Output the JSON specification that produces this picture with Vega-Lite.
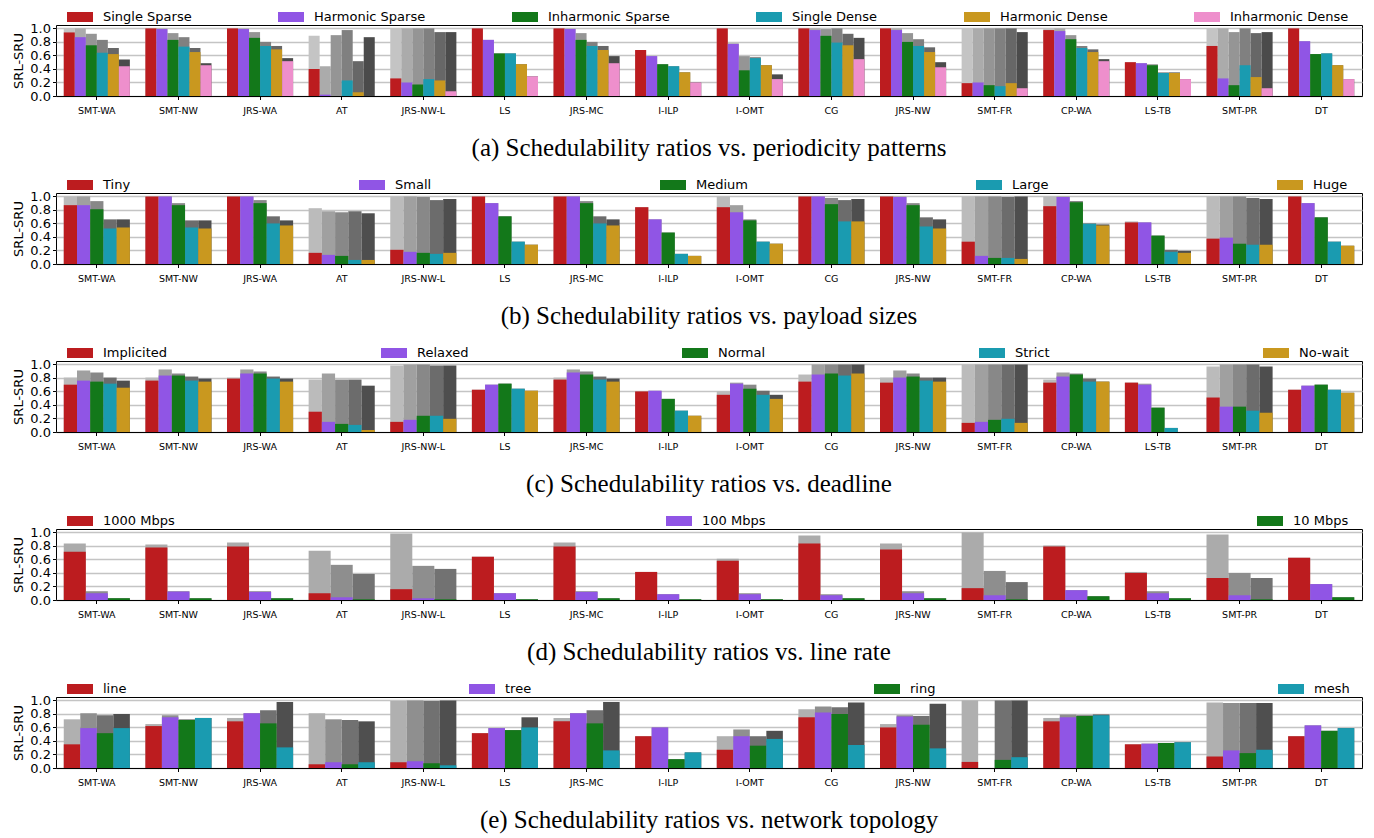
{
"$schema": "https://vega.github.io/schema/vega-lite/v6.json",
"background": "white",
"padding": {"top": 3, "left": 12, "right": 3, "bottom": 5},
"spacing": 9,
"resolve": {"scale": {"xOffset": "independent", "color": "independent"}},
"config": {
  "view": {"stroke": "black", "strokeWidth": 1},
  "font": "DejaVu Sans",
  "bar": {"strokeWidth": 0},
  "title": {"orient": "bottom", "font": "Liberation Serif", "fontSize": 25, "fontWeight": "normal", "color": "black", "offset": 21, "anchor": "middle"},
  "axisX": {"labelFontSize": 9.5, "labelColor": "black", "labelAngle": 0, "tickColor": "black", "tickSize": 3.5, "domainColor": "black", "labelPadding": 6, "grid": false, "title": null},
  "axisY": {"labelFontSize": 13, "labelColor": "black", "tickColor": "black", "tickSize": 3.5, "domain": false, "titleFontSize": 13, "titleFontWeight": "normal", "titleColor": "black", "titlePadding": 4, "grid": true, "gridColor": "#c4c4c4", "gridWidth": 1.3, "zindex": 1},
  "legend": {"orient": "none", "legendX": 11, "legendY": -21, "direction": "horizontal", "title": null, "symbolType": "M-1,-0.385H1V0.385H-1Z", "symbolSize": 676, "symbolStrokeWidth": 0, "symbolOpacity": 1, "labelFontSize": 13, "labelColor": "black", "labelOffset": 10, "labelLimit": 300}
},
"datasets": {
"a": [
{"g":"SMT-WA","s":"Single Sparse","v":0.94,"t":1.0},{"g":"SMT-WA","s":"Harmonic Sparse","v":0.87,"t":1.0},{"g":"SMT-WA","s":"Inharmonic Sparse","v":0.75,"t":0.92},{"g":"SMT-WA","s":"Single Dense","v":0.64,"t":0.83},{"g":"SMT-WA","s":"Harmonic Dense","v":0.62,"t":0.71},{"g":"SMT-WA","s":"Inharmonic Dense","v":0.44,"t":0.54},
{"g":"SMT-NW","s":"Single Sparse","v":1.0,"t":1.0},{"g":"SMT-NW","s":"Harmonic Sparse","v":0.99,"t":1.0},{"g":"SMT-NW","s":"Inharmonic Sparse","v":0.83,"t":0.93},{"g":"SMT-NW","s":"Single Dense","v":0.73,"t":0.87},{"g":"SMT-NW","s":"Harmonic Dense","v":0.65,"t":0.71},{"g":"SMT-NW","s":"Inharmonic Dense","v":0.455,"t":0.485},
{"g":"JRS-WA","s":"Single Sparse","v":1.0,"t":1.0},{"g":"JRS-WA","s":"Harmonic Sparse","v":0.99,"t":1.0},{"g":"JRS-WA","s":"Inharmonic Sparse","v":0.86,"t":0.945},{"g":"JRS-WA","s":"Single Dense","v":0.74,"t":0.8},{"g":"JRS-WA","s":"Harmonic Dense","v":0.69,"t":0.74},{"g":"JRS-WA","s":"Inharmonic Dense","v":0.515,"t":0.56},
{"g":"AT","s":"Single Sparse","v":0.4,"t":0.89},{"g":"AT","s":"Harmonic Sparse","v":0.02,"t":0.44},{"g":"AT","s":"Inharmonic Sparse","v":0.0,"t":0.9},{"g":"AT","s":"Single Dense","v":0.23,"t":0.975},{"g":"AT","s":"Harmonic Dense","v":0.055,"t":0.515},{"g":"AT","s":"Inharmonic Dense","v":0.0,"t":0.87},
{"g":"JRS-NW-L","s":"Single Sparse","v":0.26,"t":1.0},{"g":"JRS-NW-L","s":"Harmonic Sparse","v":0.2,"t":1.0},{"g":"JRS-NW-L","s":"Inharmonic Sparse","v":0.17,"t":1.0},{"g":"JRS-NW-L","s":"Single Dense","v":0.25,"t":1.0},{"g":"JRS-NW-L","s":"Harmonic Dense","v":0.23,"t":0.945},{"g":"JRS-NW-L","s":"Inharmonic Dense","v":0.07,"t":0.945},
{"g":"LS","s":"Single Sparse","v":1.0,"t":1.0},{"g":"LS","s":"Harmonic Sparse","v":0.83,"t":0.83},{"g":"LS","s":"Inharmonic Sparse","v":0.63,"t":0.63},{"g":"LS","s":"Single Dense","v":0.63,"t":0.63},{"g":"LS","s":"Harmonic Dense","v":0.47,"t":0.47},{"g":"LS","s":"Inharmonic Dense","v":0.29,"t":0.29},
{"g":"JRS-MC","s":"Single Sparse","v":1.0,"t":1.0},{"g":"JRS-MC","s":"Harmonic Sparse","v":0.99,"t":1.0},{"g":"JRS-MC","s":"Inharmonic Sparse","v":0.83,"t":0.93},{"g":"JRS-MC","s":"Single Dense","v":0.74,"t":0.8},{"g":"JRS-MC","s":"Harmonic Dense","v":0.68,"t":0.74},{"g":"JRS-MC","s":"Inharmonic Dense","v":0.485,"t":0.59},
{"g":"I-ILP","s":"Single Sparse","v":0.68,"t":0.68},{"g":"I-ILP","s":"Harmonic Sparse","v":0.59,"t":0.59},{"g":"I-ILP","s":"Inharmonic Sparse","v":0.47,"t":0.47},{"g":"I-ILP","s":"Single Dense","v":0.44,"t":0.44},{"g":"I-ILP","s":"Harmonic Dense","v":0.35,"t":0.35},{"g":"I-ILP","s":"Inharmonic Dense","v":0.2,"t":0.2},
{"g":"I-OMT","s":"Single Sparse","v":1.0,"t":1.0},{"g":"I-OMT","s":"Harmonic Sparse","v":0.77,"t":0.78},{"g":"I-OMT","s":"Inharmonic Sparse","v":0.38,"t":0.59},{"g":"I-OMT","s":"Single Dense","v":0.56,"t":0.575},{"g":"I-OMT","s":"Harmonic Dense","v":0.455,"t":0.455},{"g":"I-OMT","s":"Inharmonic Dense","v":0.25,"t":0.32},
{"g":"CG","s":"Single Sparse","v":1.0,"t":1.0},{"g":"CG","s":"Harmonic Sparse","v":0.975,"t":1.0},{"g":"CG","s":"Inharmonic Sparse","v":0.89,"t":0.99},{"g":"CG","s":"Single Dense","v":0.79,"t":1.0},{"g":"CG","s":"Harmonic Dense","v":0.75,"t":0.92},{"g":"CG","s":"Inharmonic Dense","v":0.545,"t":0.86},
{"g":"JRS-NW","s":"Single Sparse","v":1.0,"t":1.0},{"g":"JRS-NW","s":"Harmonic Sparse","v":0.975,"t":1.0},{"g":"JRS-NW","s":"Inharmonic Sparse","v":0.8,"t":0.93},{"g":"JRS-NW","s":"Single Dense","v":0.74,"t":0.84},{"g":"JRS-NW","s":"Harmonic Dense","v":0.65,"t":0.72},{"g":"JRS-NW","s":"Inharmonic Dense","v":0.425,"t":0.5},
{"g":"SMT-FR","s":"Single Sparse","v":0.19,"t":1.0},{"g":"SMT-FR","s":"Harmonic Sparse","v":0.2,"t":1.0},{"g":"SMT-FR","s":"Inharmonic Sparse","v":0.16,"t":1.0},{"g":"SMT-FR","s":"Single Dense","v":0.145,"t":1.0},{"g":"SMT-FR","s":"Harmonic Dense","v":0.19,"t":1.0},{"g":"SMT-FR","s":"Inharmonic Dense","v":0.115,"t":0.945},
{"g":"CP-WA","s":"Single Sparse","v":0.975,"t":1.0},{"g":"CP-WA","s":"Harmonic Sparse","v":0.96,"t":1.0},{"g":"CP-WA","s":"Inharmonic Sparse","v":0.84,"t":0.9},{"g":"CP-WA","s":"Single Dense","v":0.71,"t":0.74},{"g":"CP-WA","s":"Harmonic Dense","v":0.65,"t":0.69},{"g":"CP-WA","s":"Inharmonic Dense","v":0.515,"t":0.545},
{"g":"LS-TB","s":"Single Sparse","v":0.5,"t":0.5},{"g":"LS-TB","s":"Harmonic Sparse","v":0.485,"t":0.485},{"g":"LS-TB","s":"Inharmonic Sparse","v":0.455,"t":0.47},{"g":"LS-TB","s":"Single Dense","v":0.34,"t":0.35},{"g":"LS-TB","s":"Harmonic Dense","v":0.34,"t":0.35},{"g":"LS-TB","s":"Inharmonic Dense","v":0.25,"t":0.25},
{"g":"SMT-PR","s":"Single Sparse","v":0.74,"t":1.0},{"g":"SMT-PR","s":"Harmonic Sparse","v":0.26,"t":1.0},{"g":"SMT-PR","s":"Inharmonic Sparse","v":0.16,"t":0.945},{"g":"SMT-PR","s":"Single Dense","v":0.455,"t":1.0},{"g":"SMT-PR","s":"Harmonic Dense","v":0.28,"t":0.93},{"g":"SMT-PR","s":"Inharmonic Dense","v":0.115,"t":0.945},
{"g":"DT","s":"Single Sparse","v":1.0,"t":1.0},{"g":"DT","s":"Harmonic Sparse","v":0.81,"t":0.81},{"g":"DT","s":"Inharmonic Sparse","v":0.62,"t":0.62},{"g":"DT","s":"Single Dense","v":0.63,"t":0.63},{"g":"DT","s":"Harmonic Dense","v":0.455,"t":0.455},{"g":"DT","s":"Inharmonic Dense","v":0.25,"t":0.25}
],
"b": [
{"g":"SMT-WA","s":"Tiny","v":0.87,"t":1.0},{"g":"SMT-WA","s":"Small","v":0.87,"t":1.0},{"g":"SMT-WA","s":"Medium","v":0.81,"t":0.93},{"g":"SMT-WA","s":"Large","v":0.525,"t":0.66},{"g":"SMT-WA","s":"Huge","v":0.54,"t":0.66},
{"g":"SMT-NW","s":"Tiny","v":1.0,"t":1.0},{"g":"SMT-NW","s":"Small","v":1.0,"t":1.0},{"g":"SMT-NW","s":"Medium","v":0.87,"t":0.9},{"g":"SMT-NW","s":"Large","v":0.54,"t":0.645},{"g":"SMT-NW","s":"Huge","v":0.525,"t":0.645},
{"g":"JRS-WA","s":"Tiny","v":1.0,"t":1.0},{"g":"JRS-WA","s":"Small","v":1.0,"t":1.0},{"g":"JRS-WA","s":"Medium","v":0.9,"t":0.945},{"g":"JRS-WA","s":"Large","v":0.6,"t":0.705},{"g":"JRS-WA","s":"Huge","v":0.57,"t":0.645},
{"g":"AT","s":"Tiny","v":0.165,"t":0.825},{"g":"AT","s":"Small","v":0.135,"t":0.78},{"g":"AT","s":"Medium","v":0.12,"t":0.765},{"g":"AT","s":"Large","v":0.06,"t":0.78},{"g":"AT","s":"Huge","v":0.06,"t":0.75},
{"g":"JRS-NW-L","s":"Tiny","v":0.21,"t":1.0},{"g":"JRS-NW-L","s":"Small","v":0.18,"t":1.0},{"g":"JRS-NW-L","s":"Medium","v":0.165,"t":0.99},{"g":"JRS-NW-L","s":"Large","v":0.15,"t":0.945},{"g":"JRS-NW-L","s":"Huge","v":0.165,"t":0.96},
{"g":"LS","s":"Tiny","v":1.0,"t":1.0},{"g":"LS","s":"Small","v":0.9,"t":0.9},{"g":"LS","s":"Medium","v":0.705,"t":0.705},{"g":"LS","s":"Large","v":0.33,"t":0.33},{"g":"LS","s":"Huge","v":0.285,"t":0.285},
{"g":"JRS-MC","s":"Tiny","v":1.0,"t":1.0},{"g":"JRS-MC","s":"Small","v":1.0,"t":1.0},{"g":"JRS-MC","s":"Medium","v":0.9,"t":0.93},{"g":"JRS-MC","s":"Large","v":0.6,"t":0.705},{"g":"JRS-MC","s":"Huge","v":0.57,"t":0.66},
{"g":"I-ILP","s":"Tiny","v":0.84,"t":0.84},{"g":"I-ILP","s":"Small","v":0.66,"t":0.66},{"g":"I-ILP","s":"Medium","v":0.465,"t":0.465},{"g":"I-ILP","s":"Large","v":0.15,"t":0.15},{"g":"I-ILP","s":"Huge","v":0.12,"t":0.12},
{"g":"I-OMT","s":"Tiny","v":0.84,"t":1.0},{"g":"I-OMT","s":"Small","v":0.765,"t":0.87},{"g":"I-OMT","s":"Medium","v":0.645,"t":0.66},{"g":"I-OMT","s":"Large","v":0.33,"t":0.33},{"g":"I-OMT","s":"Huge","v":0.3,"t":0.3},
{"g":"CG","s":"Tiny","v":1.0,"t":1.0},{"g":"CG","s":"Small","v":1.0,"t":1.0},{"g":"CG","s":"Medium","v":0.885,"t":0.975},{"g":"CG","s":"Large","v":0.63,"t":0.945},{"g":"CG","s":"Huge","v":0.63,"t":0.96},
{"g":"JRS-NW","s":"Tiny","v":1.0,"t":1.0},{"g":"JRS-NW","s":"Small","v":0.99,"t":1.0},{"g":"JRS-NW","s":"Medium","v":0.87,"t":0.9},{"g":"JRS-NW","s":"Large","v":0.555,"t":0.69},{"g":"JRS-NW","s":"Huge","v":0.525,"t":0.66},
{"g":"SMT-FR","s":"Tiny","v":0.33,"t":1.0},{"g":"SMT-FR","s":"Small","v":0.12,"t":1.0},{"g":"SMT-FR","s":"Medium","v":0.09,"t":1.0},{"g":"SMT-FR","s":"Large","v":0.09,"t":0.99},{"g":"SMT-FR","s":"Huge","v":0.075,"t":1.0},
{"g":"CP-WA","s":"Tiny","v":0.855,"t":1.0},{"g":"CP-WA","s":"Small","v":0.99,"t":1.0},{"g":"CP-WA","s":"Medium","v":0.915,"t":0.93},{"g":"CP-WA","s":"Large","v":0.595,"t":0.6},{"g":"CP-WA","s":"Huge","v":0.57,"t":0.585},
{"g":"LS-TB","s":"Tiny","v":0.615,"t":0.63},{"g":"LS-TB","s":"Small","v":0.615,"t":0.615},{"g":"LS-TB","s":"Medium","v":0.42,"t":0.42},{"g":"LS-TB","s":"Large","v":0.18,"t":0.21},{"g":"LS-TB","s":"Huge","v":0.165,"t":0.195},
{"g":"SMT-PR","s":"Tiny","v":0.375,"t":1.0},{"g":"SMT-PR","s":"Small","v":0.39,"t":1.0},{"g":"SMT-PR","s":"Medium","v":0.3,"t":1.0},{"g":"SMT-PR","s":"Large","v":0.285,"t":0.975},{"g":"SMT-PR","s":"Huge","v":0.285,"t":0.96},
{"g":"DT","s":"Tiny","v":1.0,"t":1.0},{"g":"DT","s":"Small","v":0.9,"t":0.9},{"g":"DT","s":"Medium","v":0.69,"t":0.69},{"g":"DT","s":"Large","v":0.33,"t":0.33},{"g":"DT","s":"Huge","v":0.27,"t":0.27}
],
"c": [
{"g":"SMT-WA","s":"Implicited","v":0.7,"t":0.805},{"g":"SMT-WA","s":"Relaxed","v":0.76,"t":0.91},{"g":"SMT-WA","s":"Normal","v":0.745,"t":0.88},{"g":"SMT-WA","s":"Strict","v":0.715,"t":0.805},{"g":"SMT-WA","s":"No-wait","v":0.655,"t":0.76},
{"g":"SMT-NW","s":"Implicited","v":0.76,"t":0.805},{"g":"SMT-NW","s":"Relaxed","v":0.835,"t":0.925},{"g":"SMT-NW","s":"Normal","v":0.835,"t":0.865},{"g":"SMT-NW","s":"Strict","v":0.76,"t":0.82},{"g":"SMT-NW","s":"No-wait","v":0.745,"t":0.79},
{"g":"JRS-WA","s":"Implicited","v":0.79,"t":0.805},{"g":"JRS-WA","s":"Relaxed","v":0.865,"t":0.925},{"g":"JRS-WA","s":"Normal","v":0.865,"t":0.895},{"g":"JRS-WA","s":"Strict","v":0.79,"t":0.82},{"g":"JRS-WA","s":"No-wait","v":0.745,"t":0.79},
{"g":"AT","s":"Implicited","v":0.3,"t":0.775},{"g":"AT","s":"Relaxed","v":0.15,"t":0.865},{"g":"AT","s":"Normal","v":0.12,"t":0.775},{"g":"AT","s":"Strict","v":0.105,"t":0.775},{"g":"AT","s":"No-wait","v":0.03,"t":0.685},
{"g":"JRS-NW-L","s":"Implicited","v":0.15,"t":0.985},{"g":"JRS-NW-L","s":"Relaxed","v":0.18,"t":1.0},{"g":"JRS-NW-L","s":"Normal","v":0.24,"t":1.0},{"g":"JRS-NW-L","s":"Strict","v":0.24,"t":0.985},{"g":"JRS-NW-L","s":"No-wait","v":0.195,"t":0.985},
{"g":"LS","s":"Implicited","v":0.625,"t":0.625},{"g":"LS","s":"Relaxed","v":0.7,"t":0.7},{"g":"LS","s":"Normal","v":0.715,"t":0.715},{"g":"LS","s":"Strict","v":0.64,"t":0.64},{"g":"LS","s":"No-wait","v":0.61,"t":0.61},
{"g":"JRS-MC","s":"Implicited","v":0.775,"t":0.805},{"g":"JRS-MC","s":"Relaxed","v":0.88,"t":0.925},{"g":"JRS-MC","s":"Normal","v":0.85,"t":0.895},{"g":"JRS-MC","s":"Strict","v":0.775,"t":0.82},{"g":"JRS-MC","s":"No-wait","v":0.745,"t":0.79},
{"g":"I-ILP","s":"Implicited","v":0.6,"t":0.6},{"g":"I-ILP","s":"Relaxed","v":0.61,"t":0.61},{"g":"I-ILP","s":"Normal","v":0.49,"t":0.49},{"g":"I-ILP","s":"Strict","v":0.315,"t":0.315},{"g":"I-ILP","s":"No-wait","v":0.24,"t":0.24},
{"g":"I-OMT","s":"Implicited","v":0.55,"t":0.6},{"g":"I-OMT","s":"Relaxed","v":0.715,"t":0.73},{"g":"I-OMT","s":"Normal","v":0.64,"t":0.7},{"g":"I-OMT","s":"Strict","v":0.55,"t":0.61},{"g":"I-OMT","s":"No-wait","v":0.49,"t":0.55},
{"g":"CG","s":"Implicited","v":0.745,"t":0.85},{"g":"CG","s":"Relaxed","v":0.85,"t":1.0},{"g":"CG","s":"Normal","v":0.865,"t":1.0},{"g":"CG","s":"Strict","v":0.835,"t":1.0},{"g":"CG","s":"No-wait","v":0.865,"t":1.0},
{"g":"JRS-NW","s":"Implicited","v":0.73,"t":0.805},{"g":"JRS-NW","s":"Relaxed","v":0.805,"t":0.91},{"g":"JRS-NW","s":"Normal","v":0.82,"t":0.865},{"g":"JRS-NW","s":"Strict","v":0.76,"t":0.805},{"g":"JRS-NW","s":"No-wait","v":0.745,"t":0.805},
{"g":"SMT-FR","s":"Implicited","v":0.135,"t":1.0},{"g":"SMT-FR","s":"Relaxed","v":0.15,"t":1.0},{"g":"SMT-FR","s":"Normal","v":0.18,"t":1.0},{"g":"SMT-FR","s":"Strict","v":0.195,"t":1.0},{"g":"SMT-FR","s":"No-wait","v":0.135,"t":1.0},
{"g":"CP-WA","s":"Implicited","v":0.73,"t":0.775},{"g":"CP-WA","s":"Relaxed","v":0.82,"t":0.88},{"g":"CP-WA","s":"Normal","v":0.85,"t":0.865},{"g":"CP-WA","s":"Strict","v":0.745,"t":0.79},{"g":"CP-WA","s":"No-wait","v":0.745,"t":0.745},
{"g":"LS-TB","s":"Implicited","v":0.73,"t":0.73},{"g":"LS-TB","s":"Relaxed","v":0.7,"t":0.715},{"g":"LS-TB","s":"Normal","v":0.36,"t":0.36},{"g":"LS-TB","s":"Strict","v":0.06,"t":0.06},{"g":"LS-TB","s":"No-wait","v":0.0,"t":0.0},
{"g":"SMT-PR","s":"Implicited","v":0.51,"t":0.97},{"g":"SMT-PR","s":"Relaxed","v":0.375,"t":1.0},{"g":"SMT-PR","s":"Normal","v":0.375,"t":1.0},{"g":"SMT-PR","s":"Strict","v":0.315,"t":1.0},{"g":"SMT-PR","s":"No-wait","v":0.285,"t":0.97},
{"g":"DT","s":"Implicited","v":0.625,"t":0.625},{"g":"DT","s":"Relaxed","v":0.685,"t":0.685},{"g":"DT","s":"Normal","v":0.7,"t":0.7},{"g":"DT","s":"Strict","v":0.625,"t":0.625},{"g":"DT","s":"No-wait","v":0.58,"t":0.58}
],
"d": [
{"g":"SMT-WA","s":"1000 Mbps","v":0.715,"t":0.835},{"g":"SMT-WA","s":"100 Mbps","v":0.1,"t":0.13},{"g":"SMT-WA","s":"10 Mbps","v":0.025,"t":0.025},
{"g":"SMT-NW","s":"1000 Mbps","v":0.775,"t":0.82},{"g":"SMT-NW","s":"100 Mbps","v":0.125,"t":0.13},{"g":"SMT-NW","s":"10 Mbps","v":0.025,"t":0.025},
{"g":"JRS-WA","s":"1000 Mbps","v":0.79,"t":0.85},{"g":"JRS-WA","s":"100 Mbps","v":0.12,"t":0.13},{"g":"JRS-WA","s":"10 Mbps","v":0.025,"t":0.025},
{"g":"AT","s":"1000 Mbps","v":0.1,"t":0.73},{"g":"AT","s":"100 Mbps","v":0.04,"t":0.52},{"g":"AT","s":"10 Mbps","v":0.01,"t":0.385},
{"g":"JRS-NW-L","s":"1000 Mbps","v":0.16,"t":0.985},{"g":"JRS-NW-L","s":"100 Mbps","v":0.025,"t":0.505},{"g":"JRS-NW-L","s":"10 Mbps","v":0.01,"t":0.46},
{"g":"LS","s":"1000 Mbps","v":0.64,"t":0.64},{"g":"LS","s":"100 Mbps","v":0.1,"t":0.1},{"g":"LS","s":"10 Mbps","v":0.01,"t":0.01},
{"g":"JRS-MC","s":"1000 Mbps","v":0.79,"t":0.85},{"g":"JRS-MC","s":"100 Mbps","v":0.12,"t":0.13},{"g":"JRS-MC","s":"10 Mbps","v":0.025,"t":0.025},
{"g":"I-ILP","s":"1000 Mbps","v":0.415,"t":0.415},{"g":"I-ILP","s":"100 Mbps","v":0.085,"t":0.085},{"g":"I-ILP","s":"10 Mbps","v":0.01,"t":0.01},
{"g":"I-OMT","s":"1000 Mbps","v":0.58,"t":0.61},{"g":"I-OMT","s":"100 Mbps","v":0.085,"t":0.1},{"g":"I-OMT","s":"10 Mbps","v":0.01,"t":0.01},
{"g":"CG","s":"1000 Mbps","v":0.835,"t":0.955},{"g":"CG","s":"100 Mbps","v":0.07,"t":0.085},{"g":"CG","s":"10 Mbps","v":0.025,"t":0.025},
{"g":"JRS-NW","s":"1000 Mbps","v":0.745,"t":0.835},{"g":"JRS-NW","s":"100 Mbps","v":0.1,"t":0.13},{"g":"JRS-NW","s":"10 Mbps","v":0.025,"t":0.025},
{"g":"SMT-FR","s":"1000 Mbps","v":0.175,"t":1.0},{"g":"SMT-FR","s":"100 Mbps","v":0.07,"t":0.43},{"g":"SMT-FR","s":"10 Mbps","v":0.01,"t":0.265},
{"g":"CP-WA","s":"1000 Mbps","v":0.79,"t":0.805},{"g":"CP-WA","s":"100 Mbps","v":0.145,"t":0.145},{"g":"CP-WA","s":"10 Mbps","v":0.055,"t":0.055},
{"g":"LS-TB","s":"1000 Mbps","v":0.4,"t":0.415},{"g":"LS-TB","s":"100 Mbps","v":0.1,"t":0.13},{"g":"LS-TB","s":"10 Mbps","v":0.025,"t":0.025},
{"g":"SMT-PR","s":"1000 Mbps","v":0.325,"t":0.97},{"g":"SMT-PR","s":"100 Mbps","v":0.07,"t":0.4},{"g":"SMT-PR","s":"10 Mbps","v":0.01,"t":0.325},
{"g":"DT","s":"1000 Mbps","v":0.625,"t":0.625},{"g":"DT","s":"100 Mbps","v":0.235,"t":0.235},{"g":"DT","s":"10 Mbps","v":0.04,"t":0.04}
],
"e": [
{"g":"SMT-WA","s":"line","v":0.35,"t":0.72},{"g":"SMT-WA","s":"tree","v":0.59,"t":0.81},{"g":"SMT-WA","s":"ring","v":0.515,"t":0.78},{"g":"SMT-WA","s":"mesh","v":0.59,"t":0.8},
{"g":"SMT-NW","s":"line","v":0.62,"t":0.65},{"g":"SMT-NW","s":"tree","v":0.75,"t":0.78},{"g":"SMT-NW","s":"ring","v":0.71,"t":0.72},{"g":"SMT-NW","s":"mesh","v":0.74,"t":0.74},
{"g":"JRS-WA","s":"line","v":0.69,"t":0.74},{"g":"JRS-WA","s":"tree","v":0.81,"t":0.81},{"g":"JRS-WA","s":"ring","v":0.66,"t":0.855},{"g":"JRS-WA","s":"mesh","v":0.305,"t":0.975},
{"g":"AT","s":"line","v":0.055,"t":0.81},{"g":"AT","s":"tree","v":0.085,"t":0.72},{"g":"AT","s":"ring","v":0.055,"t":0.71},{"g":"AT","s":"mesh","v":0.085,"t":0.69},
{"g":"JRS-NW-L","s":"line","v":0.085,"t":0.99},{"g":"JRS-NW-L","s":"tree","v":0.1,"t":1.0},{"g":"JRS-NW-L","s":"ring","v":0.07,"t":0.99},{"g":"JRS-NW-L","s":"mesh","v":0.04,"t":1.0},
{"g":"LS","s":"line","v":0.515,"t":0.515},{"g":"LS","s":"tree","v":0.59,"t":0.59},{"g":"LS","s":"ring","v":0.56,"t":0.56},{"g":"LS","s":"mesh","v":0.6,"t":0.75},
{"g":"JRS-MC","s":"line","v":0.69,"t":0.74},{"g":"JRS-MC","s":"tree","v":0.81,"t":0.81},{"g":"JRS-MC","s":"ring","v":0.66,"t":0.855},{"g":"JRS-MC","s":"mesh","v":0.26,"t":0.975},
{"g":"I-ILP","s":"line","v":0.47,"t":0.47},{"g":"I-ILP","s":"tree","v":0.6,"t":0.6},{"g":"I-ILP","s":"ring","v":0.13,"t":0.13},{"g":"I-ILP","s":"mesh","v":0.23,"t":0.23},
{"g":"I-OMT","s":"line","v":0.27,"t":0.47},{"g":"I-OMT","s":"tree","v":0.47,"t":0.57},{"g":"I-OMT","s":"ring","v":0.33,"t":0.47},{"g":"I-OMT","s":"mesh","v":0.43,"t":0.55},
{"g":"CG","s":"line","v":0.75,"t":0.87},{"g":"CG","s":"tree","v":0.82,"t":0.91},{"g":"CG","s":"ring","v":0.8,"t":0.9},{"g":"CG","s":"mesh","v":0.34,"t":0.97},
{"g":"JRS-NW","s":"line","v":0.6,"t":0.65},{"g":"JRS-NW","s":"tree","v":0.76,"t":0.78},{"g":"JRS-NW","s":"ring","v":0.64,"t":0.77},{"g":"JRS-NW","s":"mesh","v":0.29,"t":0.95},
{"g":"SMT-FR","s":"line","v":0.09,"t":1.0},{"g":"SMT-FR","s":"tree","v":0.0,"t":0.0},{"g":"SMT-FR","s":"ring","v":0.12,"t":1.0},{"g":"SMT-FR","s":"mesh","v":0.16,"t":1.0},
{"g":"CP-WA","s":"line","v":0.69,"t":0.74},{"g":"CP-WA","s":"tree","v":0.75,"t":0.79},{"g":"CP-WA","s":"ring","v":0.77,"t":0.78},{"g":"CP-WA","s":"mesh","v":0.78,"t":0.79},
{"g":"LS-TB","s":"line","v":0.35,"t":0.35},{"g":"LS-TB","s":"tree","v":0.36,"t":0.36},{"g":"LS-TB","s":"ring","v":0.37,"t":0.37},{"g":"LS-TB","s":"mesh","v":0.38,"t":0.38},
{"g":"SMT-PR","s":"line","v":0.17,"t":0.97},{"g":"SMT-PR","s":"tree","v":0.26,"t":0.96},{"g":"SMT-PR","s":"ring","v":0.22,"t":0.96},{"g":"SMT-PR","s":"mesh","v":0.27,"t":0.96},
{"g":"DT","s":"line","v":0.47,"t":0.47},{"g":"DT","s":"tree","v":0.63,"t":0.63},{"g":"DT","s":"ring","v":0.55,"t":0.55},{"g":"DT","s":"mesh","v":0.59,"t":0.59}
]
},
"vconcat": [
{
 "data": {"name": "a"}, "width": 1306, "height": 71,
 "title": {"text": "(a) Schedulability ratios vs. periodicity patterns"},
 "encoding": {
  "x": {"field": "g", "type": "nominal", "sort": ["SMT-WA","SMT-NW","JRS-WA","AT","JRS-NW-L","LS","JRS-MC","I-ILP","I-OMT","CG","JRS-NW","SMT-FR","CP-WA","LS-TB","SMT-PR","DT"], "scale": {"paddingInner": 0.19, "paddingOuter": 0.095}},
  "xOffset": {"field": "s", "type": "nominal", "scale": {"domain": ["Single Sparse","Harmonic Sparse","Inharmonic Sparse","Single Dense","Harmonic Dense","Inharmonic Dense"], "paddingInner": 0, "paddingOuter": 0}}
 },
 "layer": [
  {"mark": "bar", "encoding": {"y": {"field": "t", "type": "quantitative", "title": "SRL-SRU", "scale": {"domain": [0, 1.05], "nice": false}, "axis": {"values": [0, 0.2, 0.4, 0.6, 0.8, 1.0], "format": ".1f"}}, "color": {"field": "s", "type": "nominal", "scale": {"domain": ["Single Sparse","Harmonic Sparse","Inharmonic Sparse","Single Dense","Harmonic Dense","Inharmonic Dense"], "range": ["#c4c4c4","#ababab","#959595","#808080","#676767","#4b4b4b"]}, "legend": null}}},
  {"mark": "bar", "encoding": {"y": {"field": "v", "type": "quantitative", "title": "SRL-SRU", "axis": {"values": [0, 0.2, 0.4, 0.6, 0.8, 1.0], "format": ".1f"}}, "color": {"field": "s", "type": "nominal", "scale": {"domain": ["Single Sparse","Harmonic Sparse","Inharmonic Sparse","Single Dense","Harmonic Dense","Inharmonic Dense"], "range": ["#bc1c1f","#9055e5","#13781a","#1a9bb0","#c9981f","#ee8fcc"]}, "legend": {"columnPadding": 86}}}}
 ],
 "resolve": {"scale": {"color": "independent"}}
},
{
 "data": {"name": "b"}, "width": 1306, "height": 71,
 "title": {"text": "(b) Schedulability ratios vs. payload sizes"},
 "encoding": {
  "x": {"field": "g", "type": "nominal", "sort": ["SMT-WA","SMT-NW","JRS-WA","AT","JRS-NW-L","LS","JRS-MC","I-ILP","I-OMT","CG","JRS-NW","SMT-FR","CP-WA","LS-TB","SMT-PR","DT"], "scale": {"paddingInner": 0.19, "paddingOuter": 0.095}},
  "xOffset": {"field": "s", "type": "nominal", "scale": {"domain": ["Tiny","Small","Medium","Large","Huge"], "paddingInner": 0, "paddingOuter": 0}}
 },
 "layer": [
  {"mark": "bar", "encoding": {"y": {"field": "t", "type": "quantitative", "title": "SRL-SRU", "scale": {"domain": [0, 1.05], "nice": false}, "axis": {"values": [0, 0.2, 0.4, 0.6, 0.8, 1.0], "format": ".1f"}}, "color": {"field": "s", "type": "nominal", "scale": {"domain": ["Tiny","Small","Medium","Large","Huge"], "range": ["#bbbbbb","#a0a0a0","#888888","#6c6c6c","#4e4e4e"]}, "legend": null}}},
  {"mark": "bar", "encoding": {"y": {"field": "v", "type": "quantitative", "title": "SRL-SRU", "axis": {"values": [0, 0.2, 0.4, 0.6, 0.8, 1.0], "format": ".1f"}}, "color": {"field": "s", "type": "nominal", "scale": {"domain": ["Tiny","Small","Medium","Large","Huge"], "range": ["#bc1c1f","#9055e5","#13781a","#1a9bb0","#c9981f"]}, "legend": {"columnPadding": 228}}}}
 ],
 "resolve": {"scale": {"color": "independent"}}
},
{
 "data": {"name": "c"}, "width": 1306, "height": 71,
 "title": {"text": "(c) Schedulability ratios vs. deadline"},
 "encoding": {
  "x": {"field": "g", "type": "nominal", "sort": ["SMT-WA","SMT-NW","JRS-WA","AT","JRS-NW-L","LS","JRS-MC","I-ILP","I-OMT","CG","JRS-NW","SMT-FR","CP-WA","LS-TB","SMT-PR","DT"], "scale": {"paddingInner": 0.19, "paddingOuter": 0.095}},
  "xOffset": {"field": "s", "type": "nominal", "scale": {"domain": ["Implicited","Relaxed","Normal","Strict","No-wait"], "paddingInner": 0, "paddingOuter": 0}}
 },
 "layer": [
  {"mark": "bar", "encoding": {"y": {"field": "t", "type": "quantitative", "title": "SRL-SRU", "scale": {"domain": [0, 1.05], "nice": false}, "axis": {"values": [0, 0.2, 0.4, 0.6, 0.8, 1.0], "format": ".1f"}}, "color": {"field": "s", "type": "nominal", "scale": {"domain": ["Implicited","Relaxed","Normal","Strict","No-wait"], "range": ["#bbbbbb","#a0a0a0","#888888","#6c6c6c","#4e4e4e"]}, "legend": null}}},
  {"mark": "bar", "encoding": {"y": {"field": "v", "type": "quantitative", "title": "SRL-SRU", "axis": {"values": [0, 0.2, 0.4, 0.6, 0.8, 1.0], "format": ".1f"}}, "color": {"field": "s", "type": "nominal", "scale": {"domain": ["Implicited","Relaxed","Normal","Strict","No-wait"], "range": ["#bc1c1f","#9055e5","#13781a","#1a9bb0","#c9981f"]}, "legend": {"columnPadding": 213}}}}
 ],
 "resolve": {"scale": {"color": "independent"}}
},
{
 "data": {"name": "d"}, "width": 1306, "height": 71,
 "title": {"text": "(d) Schedulability ratios vs. line rate"},
 "encoding": {
  "x": {"field": "g", "type": "nominal", "sort": ["SMT-WA","SMT-NW","JRS-WA","AT","JRS-NW-L","LS","JRS-MC","I-ILP","I-OMT","CG","JRS-NW","SMT-FR","CP-WA","LS-TB","SMT-PR","DT"], "scale": {"paddingInner": 0.19, "paddingOuter": 0.095}},
  "xOffset": {"field": "s", "type": "nominal", "scale": {"domain": ["1000 Mbps","100 Mbps","10 Mbps"], "paddingInner": 0, "paddingOuter": 0}}
 },
 "layer": [
  {"mark": "bar", "encoding": {"y": {"field": "t", "type": "quantitative", "title": "SRL-SRU", "scale": {"domain": [0, 1.05], "nice": false}, "axis": {"values": [0, 0.2, 0.4, 0.6, 0.8, 1.0], "format": ".1f"}}, "color": {"field": "s", "type": "nominal", "scale": {"domain": ["1000 Mbps","100 Mbps","10 Mbps"], "range": ["#ababab","#8e8e8e","#727272"]}, "legend": null}}},
  {"mark": "bar", "encoding": {"y": {"field": "v", "type": "quantitative", "title": "SRL-SRU", "axis": {"values": [0, 0.2, 0.4, 0.6, 0.8, 1.0], "format": ".1f"}}, "color": {"field": "s", "type": "nominal", "scale": {"domain": ["1000 Mbps","100 Mbps","10 Mbps"], "range": ["#bc1c1f","#9055e5","#13781a"]}, "legend": {"columnPadding": 491}}}}
 ],
 "resolve": {"scale": {"color": "independent"}}
},
{
 "data": {"name": "e"}, "width": 1306, "height": 71,
 "title": {"text": "(e) Schedulability ratios vs. network topology"},
 "encoding": {
  "x": {"field": "g", "type": "nominal", "sort": ["SMT-WA","SMT-NW","JRS-WA","AT","JRS-NW-L","LS","JRS-MC","I-ILP","I-OMT","CG","JRS-NW","SMT-FR","CP-WA","LS-TB","SMT-PR","DT"], "scale": {"paddingInner": 0.19, "paddingOuter": 0.095}},
  "xOffset": {"field": "s", "type": "nominal", "scale": {"domain": ["line","tree","ring","mesh"], "paddingInner": 0, "paddingOuter": 0}}
 },
 "layer": [
  {"mark": "bar", "encoding": {"y": {"field": "t", "type": "quantitative", "title": "SRL-SRU", "scale": {"domain": [0, 1.05], "nice": false}, "axis": {"values": [0, 0.2, 0.4, 0.6, 0.8, 1.0], "format": ".1f"}}, "color": {"field": "s", "type": "nominal", "scale": {"domain": ["line","tree","ring","mesh"], "range": ["#b0b0b0","#8f8f8f","#717171","#4f4f4f"]}, "legend": null}}},
  {"mark": "bar", "encoding": {"y": {"field": "v", "type": "quantitative", "title": "SRL-SRU", "axis": {"values": [0, 0.2, 0.4, 0.6, 0.8, 1.0], "format": ".1f"}}, "color": {"field": "s", "type": "nominal", "scale": {"domain": ["line","tree","ring","mesh"], "range": ["#bc1c1f","#9055e5","#13781a","#1a9bb0"]}, "legend": {"columnPadding": 342}}}}
 ],
 "resolve": {"scale": {"color": "independent"}}
}
]
}
